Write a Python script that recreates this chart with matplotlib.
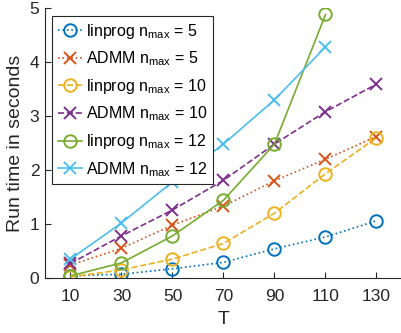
import matplotlib
matplotlib.use("Agg")
import matplotlib.pyplot as plt

plt.rcParams['font.family'] = ['Liberation Sans', 'DejaVu Sans']
plt.rcParams['mathtext.fontset'] = 'custom'
plt.rcParams['mathtext.rm'] = 'Liberation Sans'

T = [10, 30, 50, 70, 90, 110, 130]
T12 = [10, 30, 50, 70, 90, 110]

linprog_5 = [0.04, 0.07, 0.17, 0.29, 0.54, 0.76, 1.06]
admm_5 = [0.24, 0.55, 0.98, 1.33, 1.80, 2.20, 2.62]
linprog_10 = [0.02, 0.15, 0.35, 0.64, 1.20, 1.93, 2.60]
admm_10 = [0.27, 0.78, 1.26, 1.81, 2.48, 3.08, 3.59]
linprog_12 = [0.04, 0.28, 0.78, 1.44, 2.48, 4.88]
admm_12 = [0.35, 1.02, 1.78, 2.48, 3.30, 4.28]

labels = [r'linprog n$_{\mathrm{max}}$ = 5', r'ADMM n$_{\mathrm{max}}$ = 5',
          r'linprog n$_{\mathrm{max}}$ = 10', r'ADMM n$_{\mathrm{max}}$ = 10',
          r'linprog n$_{\mathrm{max}}$ = 12', r'ADMM n$_{\mathrm{max}}$ = 12']
colors = ['#0072BD', '#D95319', '#EDB120', '#7E2F8E', '#77AC30', '#4DBEEE']

fig = plt.figure(figsize=(4.02, 3.33), dpi=100)
ax = fig.add_axes([45/402, 1 - 278/333, 1 - 45/402, (278 - 8)/333])

series = [(T, linprog_5, ':', 'o'), (T, admm_5, ':', 'x'),
          (T, linprog_10, '--', 'o'), (T, admm_10, '--', 'x'),
          (T12, linprog_12, '-', 'o'), (T12, admm_12, '-', 'x')]
for (x, y, ls, mk), c, lab in zip(series, colors, labels):
    ax.plot(x, y, linestyle=ls, marker=mk, color=c, label=lab, lw=1.2,
            markersize=9, markerfacecolor='none', markeredgewidth=1.4)

ax.set_xlim(0, 140)
ax.set_ylim(0, 5)
ax.set_xticks(T)
ax.set_yticks([0, 1, 2, 3, 4, 5])
ax.spines['top'].set_visible(False)
ax.spines['right'].set_visible(False)
for s in ['left', 'bottom']:
    ax.spines[s].set_color('#262626')
    ax.spines[s].set_linewidth(0.8)
ax.tick_params(direction='in', length=4, labelsize=12.5, colors='#262626')
ax.tick_params(axis='x', pad=8)
ax.tick_params(axis='y', pad=4)
ax.set_xlabel('T', fontsize=14, color='#262626', labelpad=5)
ax.set_ylabel('Run time in seconds', fontsize=14, color='#262626', labelpad=4)

leg = ax.legend(loc='upper left', bbox_to_anchor=(0.02, 0.97), fontsize=11.5,
                handlelength=1.5, handletextpad=0.3, labelspacing=0.55,
                borderpad=0.35, borderaxespad=0, fancybox=False,
                edgecolor='#262626', framealpha=1)
leg.get_frame().set_linewidth(0.8)

fig.savefig('out.png', dpi=100)
